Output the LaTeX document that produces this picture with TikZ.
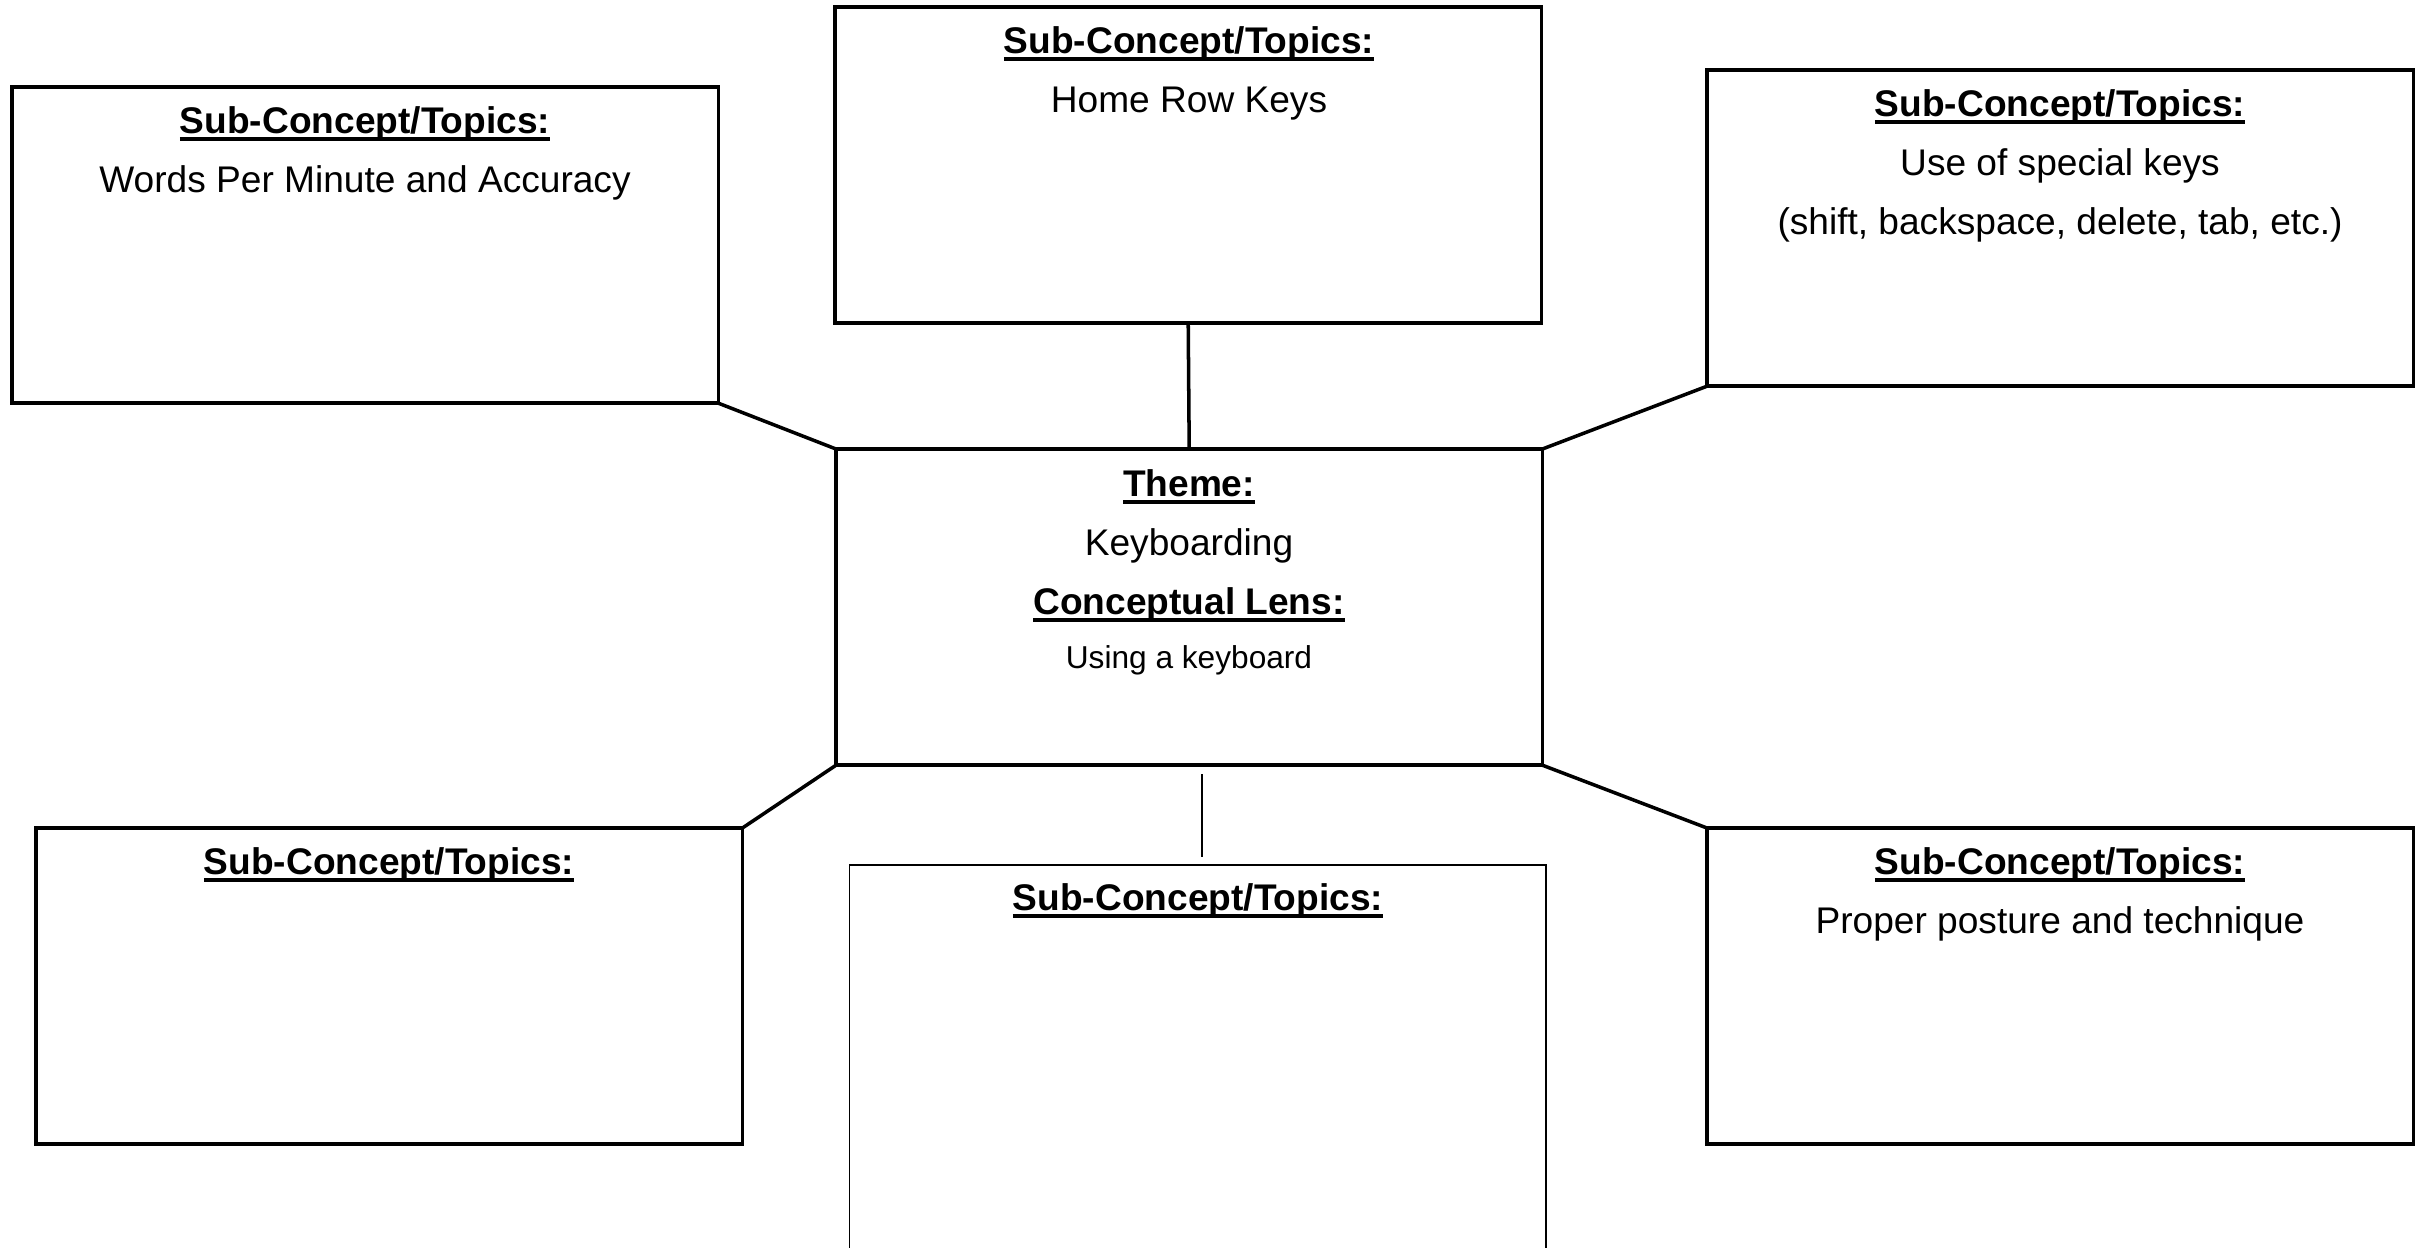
\documentclass[tikz,border=0pt]{standalone}
\usepackage{fontspec}
\setmainfont{Liberation Sans}
\newcommand{\ulbf}[1]{\setbox0=\hbox{\bfseries #1}\rlap{\rule[-0.8mm]{\wd0}{0.36mm}}\box0}
\tikzset{
  box/.style={draw, line width=1pt, inner sep=0pt, outer sep=0pt,
    minimum width=7.06cm, minimum height=3.16cm, anchor=north west},
  thinbox/.style={draw, line width=0.55pt, inner sep=0pt, outer sep=0pt,
    minimum width=6.965cm, minimum height=5cm, anchor=north west},
  conn/.style={line width=1pt},
  thinconn/.style={line width=0.55pt},
  lbl/.style={anchor=base, inner sep=0pt, font=\fontsize{10.55pt}{12pt}\selectfont},
  smalllbl/.style={anchor=base, inner sep=0pt, font=\fontsize{9pt}{11pt}\selectfont}
}
\begin{document}
\begin{tikzpicture}[x=0.01cm,y=-0.01cm]
\useasboundingbox (0,0) rectangle (2424,1247);
\clip (0,0) rectangle (2424,1247);
% boxes
\node[box] (tl) at (12,87) {};
\node[box] (tc) at (835,7) {};
\node[box] (tr) at (1707,70) {};
\node[box] (c) at (836,449) {};
\node[box] (bl) at (36,828) {};
\node[box] (br) at (1707,828) {};
\node[thinbox] (bc) at (849.5,865) {};
% connectors
\draw[conn] (tl.south east) -- (c.north west);
\draw[conn] (tc.south) -- (c.north);
\draw[conn] (tr.south west) -- (c.north east);
\draw[conn] (c.south west) -- (bl.north east);
\draw[conn] (c.south east) -- (br.north west);
\coordinate (bcA) at (1202,774);
\coordinate (bcB) at (1202,857);
\draw[thinconn] (bcA) -- (bcB);
% texts: top-left
\node[lbl] (tl1) at (365,133) {\ulbf{Sub-Concept/Topics:}};
\node[lbl] (tl2) at (365,192) {Words Per Minute and Accuracy};
% top-center
\node[lbl] (tc1) at (1189,53) {\ulbf{Sub-Concept/Topics:}};
\node[lbl] (tc2) at (1189,112) {Home Row Keys};
% top-right
\node[lbl] (tr1) at (2060,116) {\ulbf{Sub-Concept/Topics:}};
\node[lbl] (tr2) at (2060,175) {Use of special keys};
\node[lbl] (tr3) at (2060,234) {(shift, backspace, delete, tab, etc.)};
% center
\node[lbl] (c1) at (1189,496) {\ulbf{Theme:}};
\node[lbl] (c2) at (1189,555) {Keyboarding};
\node[lbl] (c3) at (1189,614) {\ulbf{Conceptual Lens:}};
\node[smalllbl] (c4) at (1189,668) {Using a keyboard};
% bottom-left
\node[lbl] (bl1) at (389,874) {\ulbf{Sub-Concept/Topics:}};
% bottom-center
\node[lbl] (bc1) at (1198,910) {\ulbf{Sub-Concept/Topics:}};
% bottom-right
\node[lbl] (br1) at (2060,874) {\ulbf{Sub-Concept/Topics:}};
\node[lbl] (br2) at (2060,933) {Proper posture and technique};
\end{tikzpicture}
\end{document}
